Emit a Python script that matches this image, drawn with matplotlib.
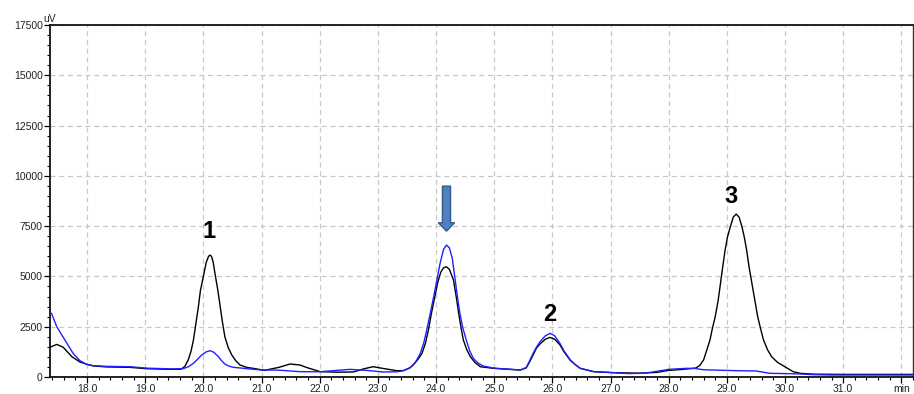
import matplotlib
matplotlib.use("Agg")
import matplotlib.pyplot as plt
from matplotlib.ticker import MultipleLocator, FixedLocator, FixedFormatter
from matplotlib.patches import FancyArrow

plt.rcParams['font.family'] = ['Liberation Sans', 'DejaVu Sans']

# ---- data ----
black_t = [17.36, 17.39, 17.48, 17.59, 17.74, 17.88, 18.00, 18.11, 18.34, 18.74, 19.03, 19.48,
           19.62, 19.68, 19.74, 19.79, 19.83, 19.87, 19.915, 19.95, 20.00, 20.05, 20.09, 20.115,
           20.14, 20.17, 20.20, 20.25, 20.29, 20.33, 20.37, 20.43, 20.49, 20.56, 20.63, 20.74,
           20.86, 21.05, 21.30, 21.49, 21.66, 21.80, 22.01, 22.30, 22.58, 22.75, 22.92, 23.10,
           23.33, 23.44, 23.55, 23.64, 23.70, 23.76, 23.82, 23.87, 23.92, 23.98, 24.03, 24.08,
           24.13, 24.18, 24.23, 24.27, 24.30, 24.35, 24.39, 24.43, 24.47, 24.53, 24.59, 24.67,
           24.76, 24.99, 25.20, 25.45, 25.55, 25.60, 25.67, 25.73, 25.79, 25.88, 25.96, 26.04,
           26.13, 26.20, 26.31, 26.40, 26.48, 26.71, 27.05, 27.50, 27.80, 28.00, 28.20, 28.46,
           28.53, 28.60, 28.65, 28.71, 28.75, 28.80, 28.85, 28.89, 28.93, 28.97, 29.01, 29.06,
           29.11, 29.16, 29.21, 29.26, 29.30, 29.34, 29.38, 29.43, 29.48, 29.53, 29.58, 29.63,
           29.70, 29.77, 29.87, 29.97, 30.14, 30.26, 30.50, 31.00, 32.20]
black_v = [1480, 1510, 1620, 1480, 1010, 745, 630, 550, 500, 480, 410, 380,
           390, 520, 845, 1300, 1840, 2600, 3490, 4300, 4990, 5700, 6000, 6060,
           6000, 5700, 5150, 4300, 3490, 2700, 2000, 1450, 1090, 800, 600, 480,
           430, 330, 480, 646, 596, 450, 265, 240, 250, 400, 512, 420,
           313, 320, 450, 700, 920, 1180, 1700, 2340, 3150, 3990, 4700, 5200,
           5430, 5480, 5350, 5050, 4820, 3950, 3166, 2450, 1840, 1350, 1010, 720,
           512, 430, 390, 348, 450, 700, 1100, 1450, 1650, 1880, 1970, 1880,
           1600, 1250, 820, 600, 430, 265, 215, 190, 230, 330, 370, 440,
           560, 845, 1300, 1840, 2400, 3000, 3800, 4657, 5500, 6310, 6950, 7470,
           7950, 8100, 7950, 7470, 6950, 6310, 5500, 4657, 3800, 3000, 2400, 1840,
           1350, 1010, 730, 560, 265, 183, 140, 130, 130]

blue_t = [17.36, 17.39, 17.48, 17.62, 17.76, 17.88, 17.99, 18.11, 18.34, 18.74, 19.03, 19.48,
          19.66, 19.75, 19.83, 19.90, 19.97, 20.05, 20.115, 20.18, 20.26, 20.31, 20.37, 20.44,
          20.52, 20.80, 21.00, 21.30, 21.66, 22.00, 22.52, 22.80, 23.09, 23.33, 23.44, 23.53,
          23.61, 23.67, 23.73, 23.79, 23.84, 23.90, 23.96, 24.02, 24.07, 24.13, 24.18, 24.23,
          24.28, 24.33, 24.37, 24.41, 24.46, 24.52, 24.58, 24.64, 24.72, 24.81, 25.00, 25.20,
          25.45, 25.55, 25.60, 25.67, 25.73, 25.79, 25.88, 25.96, 26.04, 26.13, 26.20, 26.31,
          26.40, 26.48, 26.71, 27.05, 27.30, 27.60, 28.00, 28.30, 28.43, 28.60, 29.17, 29.50,
          29.74, 30.00, 30.26, 30.50, 30.80, 32.20]
blue_v = [3200, 3165, 2500, 1840, 1180, 810, 630, 560, 530, 510, 440, 400,
          420, 520, 680, 880, 1090, 1250, 1307, 1230, 1010, 820, 646, 540,
          480, 400, 350, 340, 265, 260, 380, 330, 250, 260, 313, 430,
          596, 850, 1178, 1700, 2336, 3150, 3990, 4900, 5650, 6350, 6560, 6420,
          5900, 4820, 3950, 3166, 2450, 1840, 1300, 930, 700, 547, 440, 400,
          348, 470, 750, 1178, 1500, 1755, 2050, 2170, 2050, 1675, 1300, 845,
          600, 430, 265, 215, 170, 190, 380, 430, 430, 360, 313, 300,
          183, 170, 150, 115, 100, 100]

x_ticks = [18, 19, 20, 21, 22, 23, 24, 25, 26, 27, 28, 29, 30, 31, 32]
x_labels = ["18.0", "19.0", "20.0", "21.0", "22.0", "23.0", "24.0", "25.0",
            "26.0", "27.0", "28.0", "29.0", "30.0", "31.0", "min"]
y_ticks = [0, 2500, 5000, 7500, 10000, 12500, 15000, 17500]

peak_labels = ["1", "2", "3"]
peak_label_pos = [(20.10, 7250), (25.95, 3100), (29.07, 8950)]
arrow_x = 24.18
arrow_top = 9490
arrow_tip = 7250

# ---- figure ----
W, H = 914, 394
fig = plt.figure(figsize=(W / 100, H / 100), dpi=100)
ax = fig.add_axes([50 / W, (H - 377) / H, 863 / W, 352 / H])

ax.plot(black_t, black_v, color="black", lw=1.0, zorder=3)
ax.plot(blue_t, blue_v, color="#2020ff", lw=1.0, zorder=4)

ax.set_xlim(17.364, 32.2)
ax.set_ylim(0, 17500)

ax.xaxis.set_major_locator(FixedLocator(x_ticks))
ax.xaxis.set_major_formatter(FixedFormatter(x_labels))
ax.xaxis.set_minor_locator(MultipleLocator(0.2))
ax.yaxis.set_major_locator(FixedLocator(y_ticks))
ax.yaxis.set_minor_locator(MultipleLocator(500))

ax.grid(True, which="major", color="#c8c8c8", linestyle=(0, (4, 3)), linewidth=0.9, zorder=0)
ax.set_axisbelow(True)

ax.tick_params(axis="both", which="major", direction="out", length=4.2, width=0.9,
               color="black", labelsize=7.5, labelcolor="#222222")
ax.tick_params(axis="both", which="minor", direction="out", length=2.3, width=0.8, color="black")
ax.tick_params(axis="x", which="major", pad=0.6)
ax.tick_params(axis="y", which="major", pad=1.0)

for side in ["left", "bottom", "top"]:
    ax.spines[side].set_color("#111111")
    ax.spines[side].set_linewidth(1.3)
ax.spines["right"].set_color("#333333")
ax.spines["right"].set_linewidth(1.0)

ax.text(0.0, 1.003, "uV", transform=ax.transAxes, ha="center", va="bottom",
        fontsize=7.5, color="#222222")

for lab, (px, py) in zip(peak_labels, peak_label_pos):
    ax.text(px, py, lab, ha="center", va="center", fontsize=17, fontweight="bold",
            color="black", zorder=5)

arr = FancyArrow(arrow_x, arrow_top, 0, arrow_tip - arrow_top, width=0.14,
                 head_width=0.28, head_length=420, length_includes_head=True,
                 facecolor="#4f81bd", edgecolor="#2f5d8f", linewidth=1.0, zorder=6)
ax.add_patch(arr)

fig.savefig("out.png", dpi=100)
